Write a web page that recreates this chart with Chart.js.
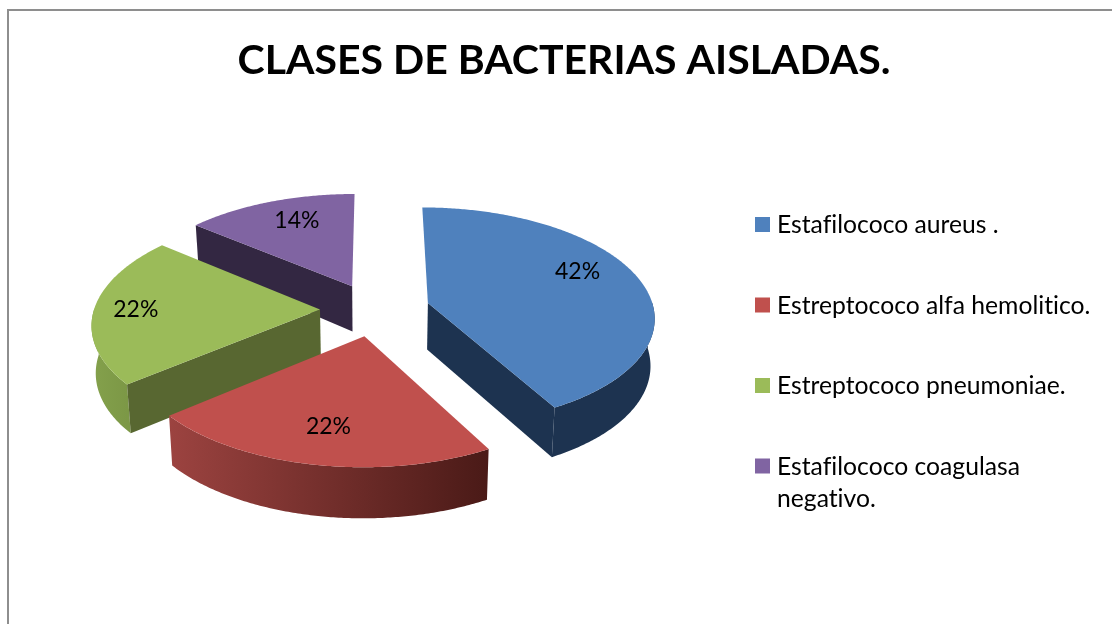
<!DOCTYPE html>
<html>
<head>
<meta charset="utf-8">
<title>Clases de bacterias aisladas</title>
<script src="https://cdn.jsdelivr.net/npm/chart.js@4"></script>
<style>
  html, body { margin: 0; background: #fff; }
  canvas { display: block; }
</style>
</head>
<body>
<canvas id="grafico" width="1112" height="624"></canvas>
<script>
const titulo = 'CLASES DE BACTERIAS AISLADAS.';
const categorias = ['Estafilococo aureus .', 'Estreptococo alfa hemolitico.', 'Estreptococo pneumoniae.', 'Estafilococo coagulasa negativo.'];
const valores = [42, 22, 22, 14];

const coresTopo = ['#4f81bd', '#c0504d', '#9bbb59', '#8064a2'];
const coresFace = ['#1d3350', '#4a1a17', '#586731', '#332742'];
const paredeEsq = ['#1d3350', '#9c4340', '#84a14c', '#3a2d4c'];
const paredeDir = ['#1d3350', '#4a1a17', '#7c9846', '#3a2d4c'];
const raioRotulo = [0.76, 0.73, 0.815, 0.74];
const giroRotulo = [-0.12, 0, 0, 0.04];

// perspectiva da pizza 3D
const DIST = 1900, INCLINA = 0.48, ALTURA = 47;

function projetar(cx, cy, X, Y, z) {
    let s = DIST / (DIST - Y);
    let h = ALTURA * (1 + (s - 1) * (s < 1 ? 1.5 : 0.5));
    return {
        x: cx + s * X * (1 - 0.015 * z),
        y: cy + s * INCLINA * Y + z * h
    };
}

function caminho(ctx, pontos) {
    ctx.beginPath();
    pontos.forEach((p, i) => i ? ctx.lineTo(p.x, p.y) : ctx.moveTo(p.x, p.y));
    ctx.closePath();
}

function pontosArco(a0, a1) {
    let lista = [];
    let n = Math.max(2, Math.ceil(Math.abs(a1 - a0) / 0.01));
    for (let i = 0; i <= n; i++) lista.push(a0 + (a1 - a0) * i / n);
    return lista;
}

const pizza3d = {
    id: 'pizza3d',
    afterLayout(chart) {
        // centra o titulo um pouco a direita, como no original
        chart.titleBlock.left = 16;
        chart.titleBlock.right = chart.width;
    },
    beforeDatasetDraw(chart, args) {
        const ctx = chart.ctx;
        const arcos = args.meta.data;
        const ordem = arcos.map((a, i) => i).sort((i, j) => {
            let mi = (arcos[i].startAngle + arcos[i].endAngle) / 2;
            let mj = (arcos[j].startAngle + arcos[j].endAngle) / 2;
            return Math.sin(mi) - Math.sin(mj);
        });

        ordem.forEach(i => {
            const arco = arcos[i];
            const { x: cx, y: cy, startAngle, endAngle, outerRadius: R } = arco;
            const meio = (startAngle + endAngle) / 2;
            const ox = Math.cos(meio) * arco.options.offset;
            const oy = Math.sin(meio) * arco.options.offset;
            const p = (r, a, z) => projetar(cx, cy, ox + r * Math.cos(a), oy + r * Math.sin(a), z);

            // parede externa, so a parte da frente
            let frente = pontosArco(startAngle, endAngle).filter(a => Math.sin(a) > -0.02);
            if (frente.length > 1) {
                let cima = frente.map(a => p(R, a, 0));
                let baixo = frente.map(a => p(R, a, 1)).reverse();
                let xs = cima.map(q => q.x);
                let grad = ctx.createLinearGradient(Math.min(...xs), 0, Math.max(...xs), 0);
                grad.addColorStop(0, paredeEsq[i]);
                grad.addColorStop(1, paredeDir[i]);
                ctx.fillStyle = grad;
                caminho(ctx, cima.concat(baixo));
                ctx.fill();
            }

            // faces radiais viradas para a frente
            ctx.fillStyle = coresFace[i];
            [[startAngle, startAngle - Math.PI / 2], [endAngle, endAngle + Math.PI / 2]].forEach(([a, n]) => {
                if (Math.sin(n) <= 0) return;
                caminho(ctx, [p(0, a, 0), p(R, a, 0), p(R, a, 1), p(0, a, 1)]);
                ctx.fill();
            });

            // topo
            let topo = [p(0, startAngle, 0)].concat(pontosArco(startAngle, endAngle).map(a => p(R, a, 0)));
            ctx.fillStyle = arco.options.backgroundColor;
            caminho(ctx, topo);
            ctx.fill();
        });

        // rotulos
        ctx.fillStyle = '#000';
        ctx.font = '23px Lato';
        ctx.textAlign = 'center';
        ctx.textBaseline = 'middle';
        arcos.forEach((arco, i) => {
            const meio = (arco.startAngle + arco.endAngle) / 2 + giroRotulo[i];
            const r = arco.options.offset + arco.outerRadius * raioRotulo[i];
            let q = projetar(arco.x, arco.y, r * Math.cos(meio), r * Math.sin(meio), 0);
            ctx.fillText(valores[i] + '%', q.x, q.y);
        });
        return false;
    },
    afterDraw(chart) {
        const ctx = chart.ctx;
        // moldura
        ctx.fillStyle = '#8e8e8e';
        ctx.fillRect(7, 9, chart.width - 7, 2);
        ctx.fillRect(7, 9, 2, chart.height - 9);

        // legenda
        const linhas = [[categorias[0]], [categorias[1]], [categorias[2]], ['Estafilococo coagulasa', 'negativo.']];
        ctx.textAlign = 'left';
        ctx.textBaseline = 'alphabetic';
        ctx.font = '24.7px Lato';
        ctx.textRendering = 'optimizeSpeed';
        linhas.forEach((textos, i) => {
            let base = 232 + i * 80.5;
            ctx.fillStyle = coresTopo[i];
            ctx.fillRect(755, base - 15, 15, 15);
            ctx.fillStyle = '#000';
            textos.forEach((t, k) => ctx.fillText(t, 777, base + 1 + k * 32));
        });
        ctx.textRendering = 'auto';
    }
};

new Chart(document.getElementById('grafico'), {
    type: 'pie',
    data: {
        labels: categorias,
        datasets: [{
            data: valores,
            backgroundColor: coresTopo,
            borderWidth: 0,
            offset: 55,
            radius: 226
        }]
    },
    options: {
        responsive: false,
        animation: false,
        layout: { padding: { left: 0, right: 362, top: 0, bottom: 110 } },
        plugins: {
            legend: { display: false },
            tooltip: { enabled: false },
            title: {
                display: true,
                text: titulo,
                color: '#000',
                font: { family: 'Lato', size: 41, weight: 'bold' },
                padding: { top: 36, bottom: 20 }
            }
        }
    },
    plugins: [pizza3d]
});
</script>
</body>
</html>
